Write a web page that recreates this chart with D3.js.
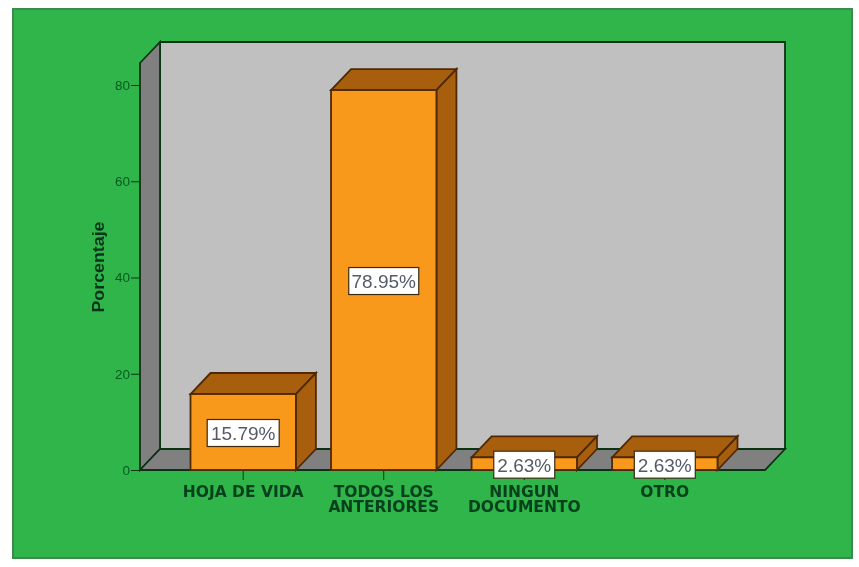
<!DOCTYPE html>
<html><head><meta charset="utf-8">
<script src="https://cdn.jsdelivr.net/npm/d3@7"></script>
<style>
html,body{margin:0;padding:0;background:#fff}
svg{display:block;filter:blur(0.7px)}
</style></head><body>
<svg id="c" width="859" height="567"></svg>
<script>
const categories = ["HOJA DE VIDA", "TODOS LOS|ANTERIORES", "NINGUN|DOCUMENTO", "OTRO"];
const values = [15.79, 78.95, 2.63, 2.63];
const valueLabels = ["15.79%", "78.95%", "2.63%", "2.63%"];
const yTicks = [0, 20, 40, 60, 80];

const svg = d3.select("#c");
const depth = 20, depthY = 21;
const left = 140, right = 765, base = 470, plotTop = 63;
const y = d3.scaleLinear().domain([0, 80]).range([base, 85]);
const x = d3.scaleBand().domain(categories).range([190.5, 717.5]).paddingInner(0.25).paddingOuter(0);
const ink = "#0a3314", barInk = "#4f2804";
const poly = pts => pts.map(p => p.join(",")).join(" ");

svg.append("rect").attr("x", 13).attr("y", 9).attr("width", 839).attr("height", 549)
  .attr("fill", "#2fb54a").attr("stroke", "#3c8a50").attr("stroke-width", 2);

// Walls and floor
svg.append("polygon").attr("points", poly([[left + depth, plotTop - depthY], [right + depth, plotTop - depthY], [right + depth, base - depthY], [left + depth, base - depthY]]))
  .attr("fill", "#c0c0c0").attr("stroke", ink).attr("stroke-width", 1.8);
svg.append("polygon").attr("points", poly([[left, plotTop], [left + depth, plotTop - depthY], [left + depth, base - depthY], [left, base]]))
  .attr("fill", "#808080").attr("stroke", ink).attr("stroke-width", 1.8);
svg.append("polygon").attr("points", poly([[left, base], [left + depth, base - depthY], [right + depth, base - depthY], [right, base]]))
  .attr("fill", "#808080").attr("stroke", ink).attr("stroke-width", 1.8);

// Y axis
const yAxis = svg.append("g").attr("transform", `translate(${left},0)`)
  .call(d3.axisLeft(y).tickValues(yTicks).tickSize(9).tickPadding(1));
yAxis.select(".domain").remove();
yAxis.selectAll("line").attr("stroke", ink);
yAxis.selectAll("text").attr("font-family", "Liberation Sans").attr("font-size", 13.5).attr("fill", "#075a20");

svg.append("text").attr("transform", "translate(104,267) rotate(-90)").attr("text-anchor", "middle")
  .attr("font-family", "Liberation Sans").attr("font-size", 17).attr("font-weight", "bold")
  .attr("textLength", 91).attr("lengthAdjust", "spacingAndGlyphs")
  .attr("fill", "#06331a").text("Porcentaje");

// Category ticks
const cats = svg.append("g").selectAll("g").data(categories).join("g");
cats.append("line").attr("x1", d => x(d) + x.bandwidth() / 2).attr("x2", d => x(d) + x.bandwidth() / 2)
  .attr("y1", base).attr("y2", base + 10).attr("stroke", ink);

// Bars
const bars = svg.append("g").selectAll("g").data(values).join("g");
const bx = (_, i) => x(categories[i]);
const bw = x.bandwidth();
bars.append("polygon").attr("points", (d, i) => { const a = bx(d, i), t = y(d);
  return poly([[a, t], [a + depth, t - depthY], [a + bw + depth, t - depthY], [a + bw, t]]); })
  .attr("fill", "#a85f0d").attr("stroke", barInk).attr("stroke-width", 1.8);
bars.append("polygon").attr("points", (d, i) => { const a = bx(d, i), t = y(d);
  return poly([[a + bw, t], [a + bw + depth, t - depthY], [a + bw + depth, base - depthY], [a + bw, base]]); })
  .attr("fill", "#a85f0d").attr("stroke", barInk).attr("stroke-width", 1.8);
bars.append("rect").attr("x", bx).attr("y", d => y(d)).attr("width", bw).attr("height", d => base - y(d))
  .attr("fill", "#f9991c").attr("stroke", barInk).attr("stroke-width", 1.8);

// Category labels
svg.append("g").selectAll("text").data(categories).join("text")
  .attr("x", d => x(d) + bw / 2).attr("y", 497).attr("text-anchor", "middle")
  .attr("font-family", "DejaVu Sans").attr("font-size", 15.5).attr("font-weight", "bold")
  .attr("fill", "#06401c")
  .each(function(d) {
    d.split("|").forEach((s, i) => d3.select(this).append("tspan")
      .attr("x", x(d) + bw / 2).attr("dy", i ? 15 : 0).text(s));
  });

// Value labels
const boxW = [72, 70, 61, 61], boxH = 27;
const lab = svg.append("g").selectAll("g").data(values).join("g")
  .attr("transform", (d, i) => `translate(${x(categories[i]) + bw / 2},${(y(d) + base) / 2 + 1})`);
lab.append("rect").attr("x", (d, i) => -boxW[i] / 2).attr("y", -boxH / 2)
  .attr("width", (d, i) => boxW[i]).attr("height", boxH)
  .attr("fill", "#fff").attr("stroke", "#3a2a10").attr("stroke-width", 1.2);
lab.append("text").attr("text-anchor", "middle").attr("dy", 7)
  .attr("font-family", "Liberation Sans").attr("font-size", 19).attr("fill", "#555b66")
  .text((d, i) => valueLabels[i]);
</script></body></html>
